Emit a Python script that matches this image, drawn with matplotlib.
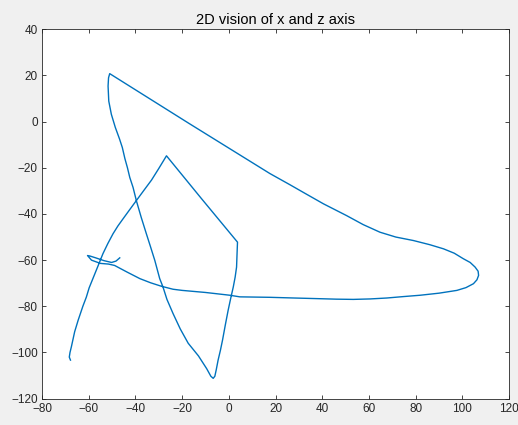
import matplotlib
matplotlib.use("Agg")
import matplotlib.pyplot as plt

# traced path (x, z), from the lower-left start to the small loop at the end
x = [-67.8, -68.3, -68.0, -67.4, -66.0, -64.5, -62.5, -61.0, -59.8, -58.2,
     -56.0, -53.9, -51.8, -49.6, -47.5, -45.3, -42.5, -39.6, -36.4, -33.1,
     -30.0, -26.7,
     -12.0, 3.7,
     3.5, 3.3, 2.7, 1.9, 0.8, -0.3, -1.5, -2.7, -3.6, -4.6, -5.4, -6.0,
     -6.7, -7.7, -9.5, -13.0, -17.4, -20.8, -23.9, -26.5, -28.2, -29.6,
     -31.7, -33.5, -35.3, -37.5, -39.6, -41.0, -42.4, -43.4, -44.5, -45.6,
     -46.8, -48.6, -50.3, -51.4, -51.7, -51.5, -51.0,
     -17.0, 17.6, 26.1, 31.8, 40.5, 50.4, 57.5, 64.7, 71.5, 79.0, 86.0,
     91.9, 96.5, 100.4, 103.3, 105.4, 106.7, 106.9, 106.2, 104.7, 101.5,
     97.6, 90.0, 81.9, 74.5, 67.6, 60.5, 53.3, 46.0, 39.0, 28.0, 17.6,
     4.7, 0.4, -10.0, -20.0, -23.9, -28.9, -33.5, -38.1, -43.5, -48.9,
     -51.5, -55.0, -58.8, -60.5, -59.5, -57.0, -53.5, -50.2, -48.3, -46.7]
z = [-103.3, -102.0, -100.0, -97.5, -91.0, -86.0, -80.0, -76.0, -72.0, -68.0,
     -62.5, -57.2, -52.8, -48.6, -45.2, -42.1, -38.2, -34.2, -29.8, -25.3,
     -20.3, -14.8,
     -33.0, -52.2,
     -57.5, -63.0, -67.3, -71.6, -76.5, -81.7, -88.0, -94.6, -99.0, -103.3,
     -107.5, -110.3, -111.2, -110.3, -107.0, -101.5, -96.0, -89.8, -83.1,
     -77.0, -71.6, -68.0, -60.1, -54.3, -48.6, -41.5, -34.2, -28.5, -24.2,
     -20.0, -16.0, -11.2, -7.5, -2.5, 3.2, 8.9, 15.4, 19.0, 20.8,
     -0.8, -22.5, -27.3, -30.6, -35.6, -40.7, -44.6, -47.9, -50.0, -51.5,
     -53.3, -55.1, -57.0, -59.4, -61.0, -63.0, -64.8, -66.6, -68.5, -70.2,
     -71.9, -73.1, -74.3, -75.2, -75.8, -76.4, -76.8, -77.0, -76.9, -76.7,
     -76.4, -76.1, -75.9, -75.2, -74.0, -73.1, -72.6, -71.3, -69.8, -68.0,
     -65.2, -62.3, -61.7, -61.4, -60.0, -58.0, -58.2, -59.0, -60.2, -61.0,
     -60.4, -59.0]

xticks = list(range(-80, 121, 20))
zticks = list(range(-120, 41, 20))

plt.rcParams["font.family"] = ["Liberation Sans", "DejaVu Sans"]

fig = plt.figure(figsize=(5.18, 4.25), dpi=100, facecolor="#f0f0f0")
ax = fig.add_axes([0.081, 0.062, 0.902, 0.869])

ax.plot(x, z, color="#0072bd", lw=1.0)

ax.set_xlim(-80, 120)
ax.set_ylim(-120, 40)
ax.set_xticks(xticks)
ax.set_yticks(zticks)
ax.tick_params(direction="in", top=True, right=True, length=3, width=0.6,
               labelsize=8.5, colors="#262626", pad=3)
for s in ax.spines.values():
    s.set_color("#262626")
    s.set_linewidth(0.6)

ax.set_title("2D vision of x and z axis", fontsize=10.5, color="black", pad=4)

fig.savefig("out.png", dpi=100, facecolor=fig.get_facecolor())
